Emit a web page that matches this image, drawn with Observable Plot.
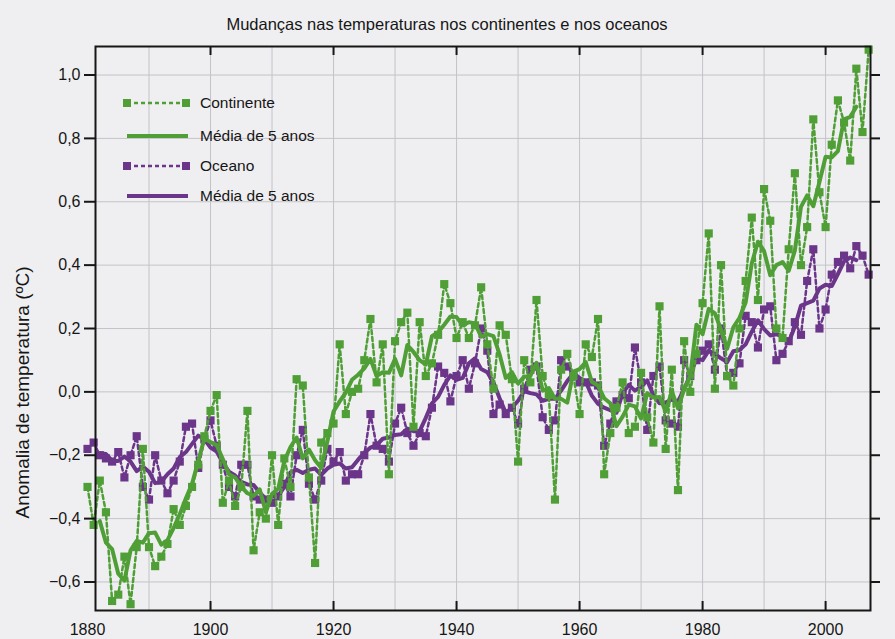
<!DOCTYPE html>
<html>
<head>
<meta charset="utf-8">
<script src="https://cdn.jsdelivr.net/npm/d3@7"></script>
<script src="https://cdn.jsdelivr.net/npm/@observablehq/plot@0.6"></script>
<style>
  html, body { margin: 0; padding: 0; background: #efeff1; }
  body { font-family: "Liberation Sans", Arial, Helvetica, sans-serif; }
  #wrap { position: relative; width: 895px; height: 639px; overflow: hidden; }
  #legend { position: absolute; left: 0; top: 0; pointer-events: none; }
</style>
</head>
<body>
<div id="wrap"></div>
<script>
// ---------- data ----------
const firstYear = 1880;

// Continente: annual anomaly (°C), 1880–2007
const continente = [
  -0.30, -0.42, -0.28, -0.38, -0.66, -0.64, -0.52, -0.67, -0.49, -0.18,
  -0.49, -0.55, -0.52, -0.48, -0.37, -0.42, -0.36, -0.30, -0.23, -0.14,
  -0.06, -0.01, -0.35, -0.28, -0.36, -0.30, -0.06, -0.50, -0.38, -0.40,
  -0.20, -0.42, -0.21, -0.30,  0.04,  0.02, -0.27, -0.54, -0.16, -0.13,
  -0.10,  0.15, -0.07,  0.00,  0.01,  0.10,  0.23,  0.03,  0.15, -0.26,
   0.16,  0.22,  0.25, -0.11,  0.22,  0.05,  0.09,  0.18,  0.34,  0.28,
   0.17,  0.22,  0.17,  0.21,  0.33,  0.15,  0.01,  0.21,  0.18,  0.04,
  -0.22,  0.10,  0.03,  0.29,  0.05, -0.01, -0.34,  0.07,  0.12,  0.05,
  -0.07,  0.15,  0.11,  0.23, -0.26, -0.13, -0.05,  0.03, -0.13, -0.11,
   0.06, -0.08, -0.16,  0.27, -0.18,  0.07, -0.31,  0.16,  0.00,  0.12,
   0.28,  0.50,  0.01,  0.40,  0.05,  0.02,  0.20,  0.35,  0.55,  0.29,
   0.64,  0.54,  0.20,  0.17,  0.45,  0.69,  0.40,  0.52,  0.86,  0.63,
   0.52,  0.78,  0.92,  0.85,  0.73,  1.02,  0.82,  1.08
];

// Oceano: annual anomaly (°C), 1880–2007
const oceano = [
  -0.18, -0.16, -0.20, -0.21, -0.22, -0.19, -0.27, -0.20, -0.14, -0.30,
  -0.34, -0.20, -0.28, -0.32, -0.28, -0.22, -0.11, -0.10, -0.24, -0.15,
  -0.09, -0.17, -0.23, -0.30, -0.33, -0.23, -0.23, -0.33, -0.34, -0.34,
  -0.35, -0.33, -0.29, -0.33, -0.20, -0.12, -0.29, -0.34, -0.28, -0.18,
  -0.22, -0.19, -0.28, -0.26, -0.26, -0.20, -0.07, -0.17, -0.18, -0.22,
  -0.10, -0.05, -0.13, -0.17, -0.13, -0.14, -0.05,  0.08,  0.06, -0.03,
   0.05,  0.10,  0.01,  0.09,  0.20,  0.13, -0.07, -0.04, -0.07, -0.05,
  -0.10,  0.01,  0.07,  0.08, -0.08, -0.12, -0.09,  0.10,  0.08,  0.05,
   0.03,  0.03,  0.03,  0.02, -0.17, -0.10, -0.03, -0.01, -0.02,  0.14,
   0.03, -0.12,  0.05,  0.08, -0.09, -0.10, -0.11,  0.10,  0.05,  0.10,
   0.13,  0.15,  0.07,  0.20,  0.05,  0.06,  0.09,  0.24,  0.22,  0.14,
   0.26,  0.27,  0.10,  0.12,  0.16,  0.22,  0.18,  0.35,  0.45,  0.20,
   0.26,  0.37,  0.41,  0.43,  0.39,  0.46,  0.43,  0.37
];

// axis ticks and texts
const xTickLabels = [1880, 1900, 1920, 1940, 1960, 1980, 2000];
const xTickMarks  = [1900, 1920, 1940, 1960, 1980, 2000];
const xGrid       = [1890, 1900, 1910, 1920, 1930, 1940, 1950, 1960, 1970, 1980, 1990, 2000];
const yTicks      = [-0.6, -0.4, -0.2, 0.0, 0.2, 0.4, 0.6, 0.8, 1.0];
const titleText   = "Mudanças nas temperaturas nos continentes e nos oceanos";
const yLabelText  = "Anomalia de temperatura (ºC)";
const legendLabels = ["Continente", "Média de 5 anos", "Oceano", "Média de 5 anos"];

// ---------- styling ----------
const landColor  = "#4f9f36";
const oceanColor = "#6b3589";
const gridColor  = "#c3c3c9";
const ink        = "#161616";
const W = 895, H = 639;
const M = {top: 46, right: 25, bottom: 29, left: 95};

// ---------- build ----------
const land  = continente.map((v, i) => ({year: firstYear + i, v}));
const ocean = oceano.map((v, i) => ({year: firstYear + i, v}));
const fmtY = d => (d < 0 ? "\u2212" : "") + Math.abs(d).toFixed(1).replace(".", ",");
const innerH = H - M.top - M.bottom;

const chart = Plot.plot({
  width: W, height: H,
  marginTop: M.top, marginRight: M.right, marginBottom: M.bottom, marginLeft: M.left,
  style: {background: "transparent", fontFamily: "Liberation Sans, Arial, sans-serif", fontSize: "16px", color: ink, overflow: "visible"},
  x: {domain: [1881.3, 2007.3]},
  y: {domain: [-0.69, 1.09]},
  marks: [
    Plot.gridY(yTicks, {stroke: gridColor, strokeOpacity: 1, strokeWidth: 1}),
    Plot.gridX(xGrid, {stroke: gridColor, strokeOpacity: 1, strokeWidth: 1}),
    // ocean
    Plot.line(ocean, {x: "year", y: "v", stroke: oceanColor, strokeWidth: 2.5, strokeDasharray: "4,3"}),
    Plot.line(ocean, Plot.windowY({k: 5, strict: true}, {x: "year", y: "v", stroke: oceanColor, strokeWidth: 4, strokeLinejoin: "round"})),
    Plot.dot(ocean, {x: "year", y: "v", symbol: "square", fill: oceanColor, r: 4.6}),
    // land
    Plot.line(land, {x: "year", y: "v", stroke: landColor, strokeWidth: 2.5, strokeDasharray: "4,3"}),
    Plot.line(land, Plot.windowY({k: 5, strict: true}, {x: "year", y: "v", stroke: landColor, strokeWidth: 4, strokeLinejoin: "round"})),
    Plot.dot(land, {x: "year", y: "v", symbol: "square", fill: landColor, r: 4.6}),
    // frame and ticks
    Plot.frame({stroke: ink, strokeWidth: 2}),
    Plot.ruleX(xTickMarks, {x: d => d, stroke: ink, strokeWidth: 2, insetTop: innerH - 9}),
    Plot.ruleX(xTickMarks, {x: d => d, stroke: ink, strokeWidth: 2, insetBottom: innerH - 9}),
    Plot.axisY(yTicks, {anchor: "left", tickSize: 11, tickPadding: 4, strokeWidth: 2, tickFormat: fmtY, fontSize: 16, label: null}),
    Plot.axisY(yTicks, {anchor: "right", tickSize: 9, strokeWidth: 2, tickFormat: () => "", label: null}),
    Plot.axisX(xTickLabels, {anchor: "bottom", tickSize: 0, tickPadding: 13, tickFormat: d => String(d), fontSize: 16, label: null}),
    // title and y label
    Plot.text([titleText], {frameAnchor: "top", dx: -36, dy: -28, fontSize: 16.5, fill: ink}),
    Plot.text([yLabelText], {frameAnchor: "left", textAnchor: "middle", rotate: -90, dx: -73, dy: 64, fontSize: 19, fill: ink})
  ]
});
document.getElementById("wrap").appendChild(chart);

// ---------- legend (overlay) ----------
const lg = d3.select("#wrap").append("svg")
  .attr("id", "legend").attr("width", W).attr("height", H);
const rows = [
  {label: legendLabels[0], color: landColor,  dashed: true,  y: 103},
  {label: legendLabels[1], color: landColor,  dashed: false, y: 136},
  {label: legendLabels[2], color: oceanColor, dashed: true,  y: 166},
  {label: legendLabels[3], color: oceanColor, dashed: false, y: 196}
];
const lx0 = 127, lx1 = 188, tx = 200;
rows.forEach(r => {
  lg.append("line").attr("x1", lx0).attr("x2", lx1).attr("y1", r.y).attr("y2", r.y)
    .attr("stroke", r.color).attr("stroke-width", r.dashed ? 2.5 : 4)
    .attr("stroke-dasharray", r.dashed ? "4,3" : null);
  if (r.dashed) {
    [lx0, lx1 - 2].forEach(x => lg.append("rect").attr("x", x - 4).attr("y", r.y - 4)
      .attr("width", 8).attr("height", 8).attr("fill", r.color));
  }
  lg.append("text").attr("x", tx).attr("y", r.y).attr("dy", "0.35em")
    .attr("font-size", 15.5).attr("fill", ink)
    .attr("font-family", "Liberation Sans, Arial, sans-serif").text(r.label);
});
</script>
</body>
</html>
